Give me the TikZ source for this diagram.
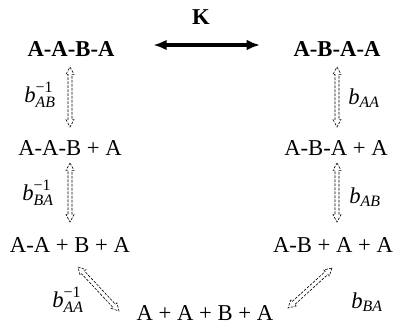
\documentclass[tikz,border=0pt]{standalone}
\usepackage{amsmath}
\usepackage{fontspec}
\setmainfont{Liberation Serif}
\usetikzlibrary{arrows.meta, calc}

\newcommand{\rinv}[1]{$\textit{b}^{\text{−1}}_{\textit{#1}}$}
\newcommand{\rfwd}[1]{$\textit{b}_{\textit{#1}}$}

\tikzset{
  species/.style={font=\fontsize{17}{20}\selectfont, inner sep=2pt},
  chain/.style={species, font=\fontsize{17}{20}\selectfont\bfseries},
  rate/.style={font=\fontsize{17}{20}\selectfont, inner sep=1pt},
  % hollow double-headed arrow with a dashed outline
  hollow/.style={draw, line width=0.45pt, dash pattern=on 2pt off 1pt, line join=miter,
    to path={let \p1=(\tikztostart), \p2=(\tikztotarget),
      \n1={atan2(\y2-\y1,\x2-\x1)}, \n2={veclen(\x2-\x1,\y2-\y1)} in
      ([shift={(\p1)},rotate=\n1]0pt,0pt)
      -- ([shift={(\p1)},rotate=\n1]5.5pt,3pt)
      -- ([shift={(\p1)},rotate=\n1]5.5pt,1.5pt)
      -- ([shift={(\p1)},rotate=\n1]{\n2*1pt-5.5pt},1.5pt)
      -- ([shift={(\p1)},rotate=\n1]{\n2*1pt-5.5pt},3pt)
      -- ([shift={(\p1)},rotate=\n1]{\n2*1pt},0pt)
      -- ([shift={(\p1)},rotate=\n1]{\n2*1pt-5.5pt},-3pt)
      -- ([shift={(\p1)},rotate=\n1]{\n2*1pt-5.5pt},-1.5pt)
      -- ([shift={(\p1)},rotate=\n1]5.5pt,-1.5pt)
      -- ([shift={(\p1)},rotate=\n1]5.5pt,-3pt)
      -- cycle}},
  thick arrow/.style={line width=3pt, {Latex[length=10pt,width=8pt]}-{Latex[length=10pt,width=8pt]}}
}

\begin{document}
\begin{tikzpicture}[x=0.75pt, y=-0.75pt]
\useasboundingbox (0,0) rectangle (398,325);

% top row
\node[chain] (AABA) at (71,49) {A-A-B-A};
\node[chain] (ABAA) at (337,49) {A-B-A-A};
\node[chain] (K) at (201,17) {K};
\draw[thick arrow, shorten <=27pt, shorten >=23pt] ([yshift=3pt]AABA.east) -- ([yshift=3pt]ABAA.west);

% left branch
\node[species] (AABpA) at (70,148) {A-A-B + A};
\node[species] (AApBpA) at (70,245) {A-A + B + A};

% right branch
\node[species] (ABApA) at (336,148) {A-B-A + A};
\node[species] (ABpApA) at (333,245) {A-B + A + A};

% fully split
\node[species, inner sep=0.5pt] (free) at (205,313) {A + A + B + A};

\draw[hollow] ([shift={(-1,18)}]AABA.center) to ([shift={(0,-21)}]AABpA.center);
\draw[hollow] ([shift={(0,15)}]AABpA.center) to ([shift={(0,-23)}]AApBpA.center);
\draw[hollow] ([shift={(0,18)}]ABAA.center) to ([shift={(1,-21)}]ABApA.center);
\draw[hollow] ([shift={(1,15)}]ABApA.center) to ([shift={(4,-23)}]ABpApA.center);
\draw[hollow] ([shift={(8,22)}]AApBpA.center) to ([shift={(-86,-2)}]free.center);
\draw[hollow] ([shift={(-1,23)}]ABpApA.center) to ([shift={(83,-5)}]free.center);

% rates
\node[rate] (r1) at (40,95) {\rinv{AB}};
\node[rate] (r2) at (38,193) {\rinv{BA}};
\node[rate] (r3) at (68,300) {\rinv{AA}};
\node[rate] (r4) at (364,98) {\rfwd{AA}};
\node[rate] (r5) at (365,197) {\rfwd{AB}};
\node[rate] (r6) at (367,302) {\rfwd{BA}};

\end{tikzpicture}
\end{document}
